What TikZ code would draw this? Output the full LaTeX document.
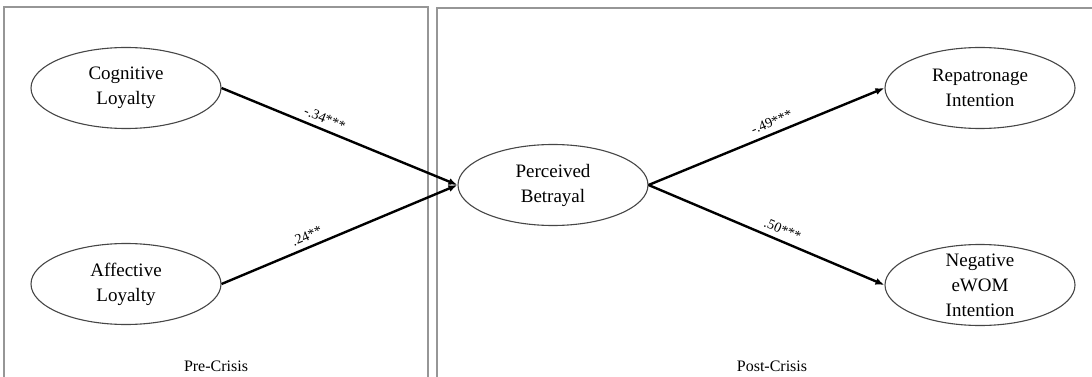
\documentclass[tikz,border=0pt]{standalone}
\usepackage{fontspec}
\setmainfont{Liberation Serif}
\usepackage{tikz}
\usetikzlibrary{positioning,arrows.meta,shapes.geometric}
\definecolor{framegray}{RGB}{150,150,150}
\definecolor{linegray}{RGB}{70,70,70}
\tikzset{
    construct/.style={
        ellipse,
        draw=linegray,
        fill=white,
        line width=1.1pt,
        minimum width=190pt,
        minimum height=81pt,
        inner sep=0pt,
        align=center,
        font=\fontsize{19}{25}\selectfont
    },
    frame/.style={draw=framegray,line width=1.1pt},
    path/.style={-{Latex[length=9pt,width=7pt]},line width=2.4pt,black},
    coef/.style={midway,above=2pt,sloped,font=\fontsize{14}{16}\selectfont},
    phase/.style={font=\fontsize{16}{18}\selectfont}
}

\begin{document}
\begin{tikzpicture}[x=1pt,y=1pt]

\useasboundingbox (0,0) rectangle (1092,-377);
\clip (0,0) rectangle (1092,-377);

% Phase boxes
\draw[frame] (4,-400) -- (4,-7) -- (428,-7) -- (428,-400);
\draw[frame] (437,-400) -- (437,-8) -- (1100,-8);

% Pre-crisis constructs
\node[construct] (cog) at (126,-88) {Cognitive\\Loyalty};
\node[construct] (aff) at (126,-284) {Affective\\Loyalty};

% Mediator
\node[construct] (pb) at (553,-185) {Perceived\\Betrayal};

% Post-crisis outcomes
\node[construct] (rep) at (980,-88) {Repatronage\\Intention};
\node[construct,inner ysep=-14pt] (neg) at (980,-285) {Negative\\eWOM\\Intention};

\draw[path] (cog.east) -- node[coef,pos=0.42] {-.34***} (pb.west);
\draw[path] (aff.east) -- node[coef,pos=0.38] {.24**} (pb.west);
\draw[path] (pb.east) -- node[coef,pos=0.54] {-.49***} (rep.west);
\draw[path] (pb.east) -- node[coef,pos=0.55] {.50***} (neg.west);

\node[phase] (pre) at (216,-366) {Pre-Crisis};
\node[phase] (post) at (772,-366) {Post-Crisis};

\end{tikzpicture}
\end{document}
